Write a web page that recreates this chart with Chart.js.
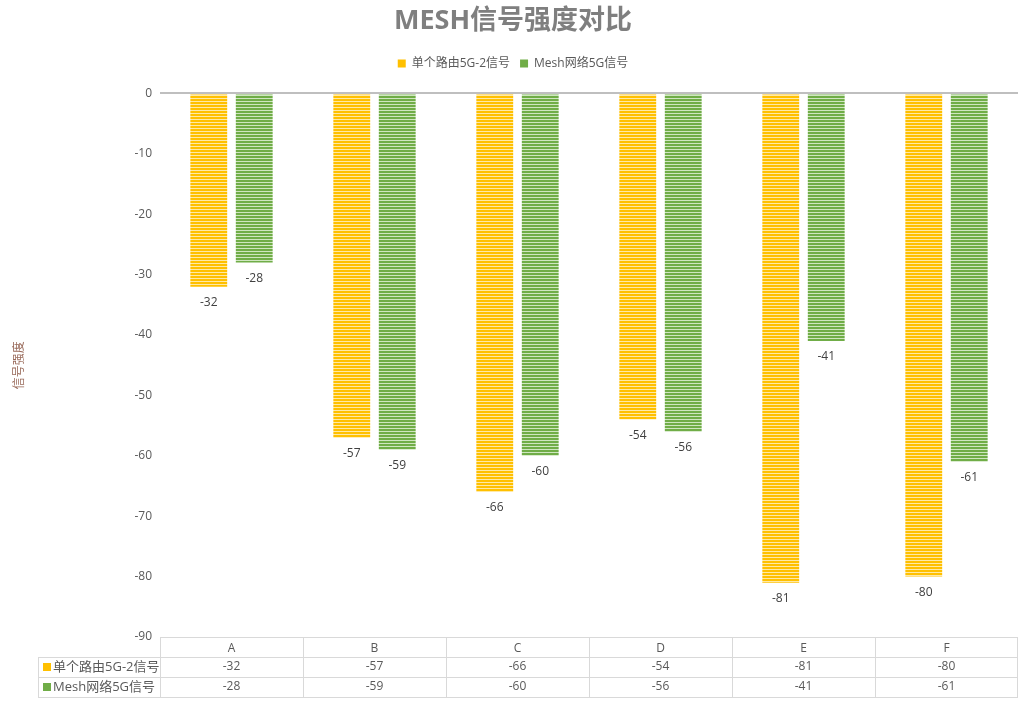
<!DOCTYPE html>
<html lang="zh">
<head>
  <meta charset="UTF-8">
  <title>MESH信号强度对比</title>
  <script src="https://cdn.jsdelivr.net/npm/chart.js"></script>
  <style>
    html, body { margin: 0; padding: 0; background: #fff; }
    .chart-box { width: 1026px; height: 713px; }
  </style>
</head>
<body>
<div class="chart-box"><canvas id="meshChart"></canvas></div>
<script>
  // 数据
  const categories = ["A", "B", "C", "D", "E", "F"];
  const singleRouter = [-32, -57, -66, -54, -81, -80];
  const meshSignal = [-28, -59, -60, -56, -41, -61];
  const seriesNames = ["单个路由5G-2信号", "Mesh网络5G信号"];

  const FONT = "'Open Sans', 'Noto Sans CJK SC', sans-serif";
  const TEXT = '#595959';
  const LINE = '#d9d9d9';

  // 横条纹填充
  function stripes(color, light) {
    const c = document.createElement('canvas');
    c.width = 4; c.height = 3;
    const g = c.getContext('2d');
    g.fillStyle = color; g.fillRect(0, 0, 4, 2);
    g.fillStyle = light; g.fillRect(0, 2, 4, 1);
    return g.createPattern(c, 'repeat');
  }
  const ctx = document.getElementById('meshChart').getContext('2d');
  const yellowFill = stripes('#ffc000', '#ffe9a6');
  const greenFill = stripes('#70ad47', '#cfe6c0');

  // 图例下方留白
  const legendGap = {
    id: 'legendGap',
    beforeInit(chart) {
      const fit = chart.legend.fit;
      chart.legend.fit = function () {
        fit.bind(chart.legend)();
        this.height += 14;
      };
    }
  };

  // 柱子下方的数值
  const valueLabels = {
    id: 'valueLabels',
    afterDatasetsDraw(chart) {
      const c = chart.ctx;
      c.save();
      c.font = '12px ' + FONT;
      c.fillStyle = '#404040';
      c.textAlign = 'center';
      c.textBaseline = 'middle';
      chart.data.datasets.forEach((ds, i) => {
        chart.getDatasetMeta(i).data.forEach((bar, j) => {
          c.fillText(ds.data[j], bar.x, bar.y + 16);
        });
      });
      c.restore();
    }
  };

  // 底部数据表
  const dataTable = {
    id: 'dataTable',
    afterDraw(chart) {
      const c = chart.ctx;
      const x = chart.scales.x;
      const area = chart.chartArea;
      const half = (x.getPixelForValue(1) - x.getPixelForValue(0)) / 2;
      const top = area.bottom, rowH = 20, left = 38;
      const rows = [singleRouter, meshSignal];
      const colors = ['#ffc000', '#70ad47'];
      c.save();
      c.strokeStyle = LINE;
      c.lineWidth = 1;
      c.beginPath();
      // 横线
      c.moveTo(area.left, top + 0.5); c.lineTo(area.right, top + 0.5);
      for (let r = 1; r <= 3; r++) {
        c.moveTo(left, top + r * rowH + 0.5); c.lineTo(area.right, top + r * rowH + 0.5);
      }
      // 竖线
      c.moveTo(left + 0.5, top + rowH); c.lineTo(left + 0.5, top + 3 * rowH);
      categories.forEach((cat, i) => {
        const xl = Math.round(x.getPixelForValue(i) - half) + 0.5;
        c.moveTo(xl, top); c.lineTo(xl, top + 3 * rowH);
      });
      c.moveTo(area.right - 0.5, top); c.lineTo(area.right - 0.5, top + 3 * rowH);
      c.stroke();

      c.textBaseline = 'middle';
      rows.forEach((vals, r) => {
        const cy = top + (r + 1.5) * rowH;
        c.fillStyle = colors[r];
        c.fillRect(left + 5, cy - 4, 8, 8);
        c.fillStyle = TEXT;
        c.textAlign = 'left';
        c.font = '13px ' + FONT;
        c.fillText(seriesNames[r], left + 15, cy);
        c.font = '12px ' + FONT;
        c.textAlign = 'center';
        vals.forEach((v, j) => c.fillText(v, x.getPixelForValue(j), cy));
      });
      c.restore();
    }
  };

  new Chart(ctx, {
    type: 'bar',
    data: {
      labels: categories,
      datasets: [
        { label: seriesNames[0], data: singleRouter, backgroundColor: yellowFill },
        { label: seriesNames[1], data: meshSignal, backgroundColor: greenFill }
      ]
    },
    options: {
      responsive: true,
      maintainAspectRatio: false,
      animation: false,
      layout: { padding: { left: 8, right: 8, top: 0, bottom: 0 } },
      datasets: { bar: { categoryPercentage: 0.636, barPercentage: 0.81 } },
      plugins: {
        title: {
          display: true,
          text: 'MESH信号强度对比',
          color: '#7f7f7f',
          font: { family: FONT, size: 27, weight: 'bold' },
          padding: { top: 5, bottom: 10 }
        },
        legend: {
          position: 'top',
          labels: {
            color: TEXT,
            font: { family: FONT, size: 12 },
            boxWidth: 8, boxHeight: 8, padding: 10,
            generateLabels: (chart) => seriesNames.map((n, i) => ({
              text: n,
              fillStyle: ['#ffc000', '#70ad47'][i],
              strokeStyle: 'transparent', lineWidth: 0,
              fontColor: TEXT, datasetIndex: i
            }))
          }
        },
        tooltip: { enabled: false }
      },
      scales: {
        x: {
          grid: { display: false, drawTicks: false },
          border: { display: false },
          ticks: { color: TEXT, font: { family: FONT, size: 12 }, padding: 4 },
          afterFit: (s) => { s.height = 76; }
        },
        y: {
          min: -90, max: 0,
          ticks: { stepSize: 10, color: TEXT, font: { family: FONT, size: 12 }, padding: 8 },
          grid: {
            drawTicks: false,
            color: (c) => c.tick && c.tick.value === 0 ? '#bfbfbf' : 'transparent',
            lineWidth: (c) => c.tick && c.tick.value === 0 ? 2 : 0
          },
          border: { display: false },
          title: { display: true, text: '信号强度', color: '#9a6b5b', font: { family: FONT, size: 12 } },
          afterFit: (s) => { s.width = 152; }
        }
      }
    },
    plugins: [legendGap, valueLabels, dataTable]
  });
</script>
</body>
</html>
